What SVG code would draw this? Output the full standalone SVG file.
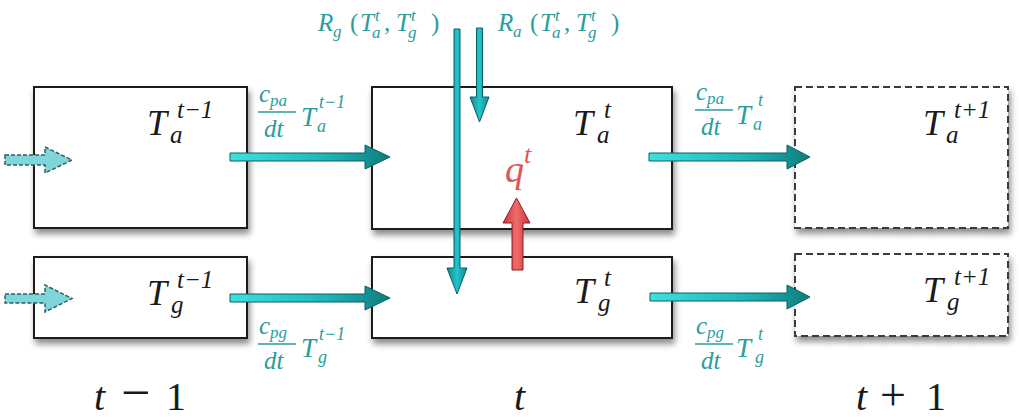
<svg xmlns="http://www.w3.org/2000/svg" width="1021" height="420" viewBox="0 0 1021 420">
<defs>
<filter id="sh" x="-10%" y="-10%" width="125%" height="135%">
<feDropShadow dx="2" dy="5" stdDeviation="3" flood-color="#000" flood-opacity="0.45"/>
</filter>
<linearGradient id="gh" x1="0" y1="0" x2="1" y2="0">
<stop offset="0" stop-color="#3fe0e0"/>
<stop offset="0.6" stop-color="#1fb5b8"/>
<stop offset="1" stop-color="#0e7d7d"/>
</linearGradient>
<linearGradient id="gv" x1="0" y1="0" x2="1" y2="0">
<stop offset="0" stop-color="#0f8a8f"/>
<stop offset="0.5" stop-color="#22c4cc"/>
<stop offset="1" stop-color="#0f8a8f"/>
</linearGradient>
<linearGradient id="gr" x1="0" y1="0" x2="1" y2="0">
<stop offset="0" stop-color="#c83838"/>
<stop offset="0.5" stop-color="#f06a6a"/>
<stop offset="1" stop-color="#c83838"/>
</linearGradient>
</defs>
<style>
.box{fill:#fff;stroke:#1a1a1a;stroke-width:2;filter:url(#sh)}
.dbox{fill:#fff;stroke:#3a3a3a;stroke-width:2;stroke-dasharray:7 4;filter:url(#sh)}
.m{font-family:"Liberation Serif","DejaVu Serif",serif;font-style:italic;fill:#1a1a1a}
.u{font-style:normal}
.tl{fill:#2a9d9d}
.red{fill:#e05555}
.ah{fill:url(#gh);stroke:#0b5f60;stroke-width:1}
.av{fill:url(#gv);stroke:#0b5f60;stroke-width:1}
.ar{fill:url(#gr);stroke:#8a2020;stroke-width:1}
.ad{fill:#7fd6da;stroke:#2f5f60;stroke-width:1.5;stroke-dasharray:4 2}
.fl{stroke:#2a9d9d;stroke-width:1.3}
</style>

<g id="node-a-prev"><rect class="box" x="34" y="87" width="213" height="141"/>
<text class="m" font-size="36"><tspan x="147" y="135">T</tspan><tspan x="177" y="118" font-size="25">t−1</tspan><tspan x="170" y="143" font-size="25">a</tspan></text></g>

<g id="node-g-prev"><rect class="box" x="34" y="257" width="213" height="81"/>
<text class="m" font-size="36"><tspan x="147" y="305">T</tspan><tspan x="177" y="288" font-size="25">t−1</tspan><tspan x="171" y="313" font-size="25">g</tspan></text></g>

<g id="node-a-t"><rect class="box" x="372" y="87" width="300" height="142"/>
<text class="m" font-size="36"><tspan x="573" y="135">T</tspan><tspan x="604" y="118" font-size="25">t</tspan><tspan x="597" y="143" font-size="25">a</tspan></text></g>

<g id="node-g-t"><rect class="box" x="372" y="257" width="300" height="81"/>
<text class="m" font-size="36"><tspan x="574" y="303">T</tspan><tspan x="604" y="286" font-size="25">t</tspan><tspan x="598" y="311" font-size="25">g</tspan></text></g>

<g id="node-a-next"><rect class="dbox" x="795" y="87" width="213" height="141"/>
<text class="m" font-size="36"><tspan x="923" y="135">T</tspan><tspan x="954" y="118" font-size="25">t+1</tspan><tspan x="946" y="143" font-size="25">a</tspan></text></g>

<g id="node-g-next"><rect class="dbox" x="795" y="254" width="213" height="82"/>
<text class="m" font-size="36"><tspan x="923" y="302">T</tspan><tspan x="954" y="285" font-size="25">t+1</tspan><tspan x="947" y="310" font-size="25">g</tspan></text></g>

<g id="connectors">
<polygon class="ad" points="5,155 45,155 45,147 72,160 45,173 45,165 5,165"/>
<polygon class="ad" points="5,294 45,294 45,285 72,298.5 45,312 45,303 5,303"/>
<polygon class="ah" points="230,153 365,153 365,145 390,157 365,169 365,161 230,161"/>
<polygon class="ah" points="230,294 365,294 365,286 390,298 365,310 365,302 230,302"/>
<polygon class="ah" points="649,153 787,153 787,145 810,157 787,169 787,161 649,161"/>
<polygon class="ah" points="650,293 787,293 787,285 810,297 787,309 787,301 650,301"/>
<polygon class="av" points="454,29 460,29 460,268 467,268 457,294 447,268 454,268"/>
<polygon class="av" points="476.5,28 482.5,28 482.5,97 489,97 479.5,122 470,97 476.5,97"/>
<polygon class="ar" points="512,270 523,270 523,223 530,223 516.5,198 503,223 512,223"/>
</g>

<g id="labels">
<text class="m red" font-size="38"><tspan x="505" y="182">q</tspan><tspan x="524" y="163" font-size="26">t</tspan></text>

<text class="m tl" font-size="25"><tspan x="318" y="31">R</tspan><tspan x="333" y="37" font-size="17">g</tspan><tspan x="350" y="31" class="u">(</tspan><tspan x="360" y="31">T</tspan><tspan x="375" y="21" font-size="17">t</tspan><tspan x="372" y="38" font-size="17">a</tspan><tspan x="384" y="31" class="u">,</tspan><tspan x="396" y="31">T</tspan><tspan x="411" y="21" font-size="17">t</tspan><tspan x="408" y="38" font-size="17">g</tspan><tspan x="431" y="31" class="u">)</tspan></text>

<text class="m tl" font-size="25"><tspan x="498" y="31">R</tspan><tspan x="513" y="37" font-size="17">a</tspan><tspan x="530" y="31" class="u">(</tspan><tspan x="540" y="31">T</tspan><tspan x="555" y="21" font-size="17">t</tspan><tspan x="552" y="38" font-size="17">a</tspan><tspan x="564" y="31" class="u">,</tspan><tspan x="576" y="31">T</tspan><tspan x="591" y="21" font-size="17">t</tspan><tspan x="588" y="38" font-size="17">g</tspan><tspan x="611" y="31" class="u">)</tspan></text>

<text class="m tl" font-size="25"><tspan x="259" y="102">c</tspan><tspan x="270" y="106" font-size="17">pa</tspan><tspan x="264" y="137">dt</tspan><tspan x="301" y="126" font-size="27">T</tspan><tspan x="319" y="108" font-size="18">t−1</tspan><tspan x="317" y="132" font-size="18">a</tspan></text>
<line class="fl" x1="258" y1="112" x2="296" y2="112"/>

<text class="m tl" font-size="25"><tspan x="696" y="100">c</tspan><tspan x="707" y="104" font-size="17">pa</tspan><tspan x="701" y="135">dt</tspan><tspan x="736" y="124" font-size="27">T</tspan><tspan x="758" y="106" font-size="18">t</tspan><tspan x="753" y="130" font-size="18">a</tspan></text>
<line class="fl" x1="695" y1="110" x2="733" y2="110"/>

<text class="m tl" font-size="25"><tspan x="259" y="334">c</tspan><tspan x="270" y="338" font-size="17">pg</tspan><tspan x="264" y="369">dt</tspan><tspan x="301" y="357" font-size="27">T</tspan><tspan x="319" y="340" font-size="18">t−1</tspan><tspan x="318" y="363" font-size="18">g</tspan></text>
<line class="fl" x1="258" y1="344" x2="296" y2="344"/>

<text class="m tl" font-size="25"><tspan x="696" y="334">c</tspan><tspan x="707" y="338" font-size="17">pg</tspan><tspan x="701" y="369">dt</tspan><tspan x="736" y="357" font-size="27">T</tspan><tspan x="758" y="340" font-size="18">t</tspan><tspan x="755" y="363" font-size="18">g</tspan></text>
<line class="fl" x1="695" y1="344" x2="733" y2="344"/>

<text class="m" font-size="40"><tspan x="94" y="410">t</tspan><tspan x="121" y="410" class="u" font-size="52">−</tspan><tspan x="166" y="410" class="u">1</tspan></text>
<text class="m" font-size="40"><tspan x="514" y="410">t</tspan></text>
<text class="m" font-size="40"><tspan x="856" y="410">t</tspan><tspan x="880" y="410" class="u" font-size="46">+</tspan><tspan x="926" y="410" class="u">1</tspan></text>
</g>
</svg>
